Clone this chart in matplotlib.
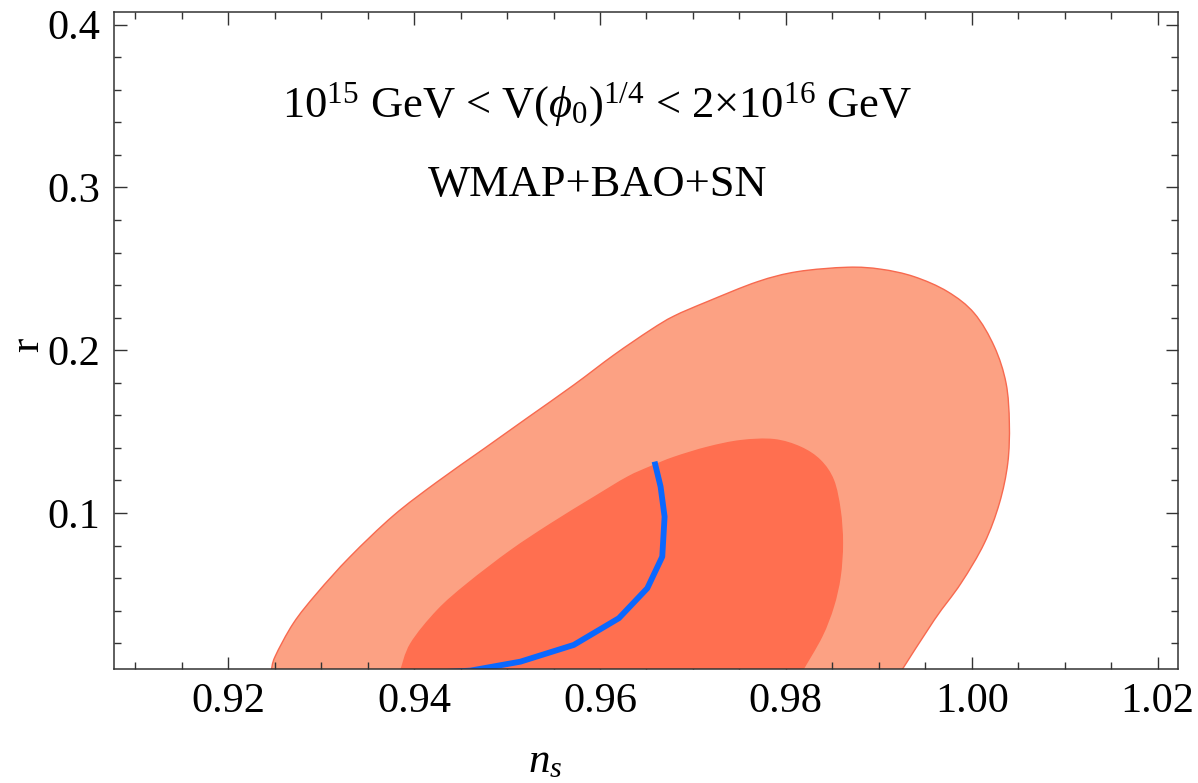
import matplotlib
matplotlib.use("Agg")
import numpy as np
import matplotlib.pyplot as plt
from matplotlib.path import Path
from matplotlib.patches import PathPatch
from matplotlib.ticker import MultipleLocator, FixedFormatter, FixedLocator

plt.rcParams["font.family"] = ["Liberation Serif", "DejaVu Serif"]
plt.rcParams["mathtext.fontset"] = "custom"
plt.rcParams["mathtext.rm"] = "Liberation Serif"
plt.rcParams["mathtext.it"] = "Liberation Serif:italic"
plt.rcParams["mathtext.bf"] = "Liberation Serif:bold"
plt.rcParams["mathtext.fallback"] = "stix"

# 2-sigma (outer) confidence region in the (n_s, r) plane
outer_ns = [0.9240, 0.92457, 0.92503, 0.92700, 0.92953, 0.93311, 0.93778, 0.94246,
            0.94748, 0.95216, 0.95718, 0.96149, 0.96544, 0.96795, 0.97155, 0.97694,
            0.98125, 0.98664, 0.99023, 0.99381, 0.99741, 1.00028, 1.00244, 1.00370,
            1.00405, 1.00388, 1.00298, 1.00136, 0.99885, 0.99597, 0.99238, 0.9918]
outer_r = [-0.002, 0.0026, 0.0118, 0.0323, 0.0507, 0.0732, 0.0985, 0.1191,
           0.1394, 0.1584, 0.1787, 0.1971, 0.2125, 0.2210, 0.2299, 0.2421,
           0.2483, 0.2510, 0.2498, 0.2452, 0.2360, 0.2227, 0.2022, 0.1797,
           0.1552, 0.1306, 0.1060, 0.0815, 0.0569, 0.0343, 0.0026, -0.002]

# 1-sigma (inner) confidence region
inner_ns = [0.9380, 0.93843, 0.93958, 0.94246, 0.94569, 0.95036, 0.95467, 0.95933,
            0.96293, 0.96544, 0.96795, 0.97155, 0.97514, 0.97873, 0.98161, 0.98376,
            0.98519, 0.98591, 0.98616, 0.98591, 0.98519, 0.98394, 0.98179, 0.9814]
inner_r = [-0.002, 0.0026, 0.0200, 0.0405, 0.0569, 0.0773, 0.0937, 0.1101,
           0.1224, 0.1289, 0.1346, 0.1408, 0.1449, 0.1455, 0.1408, 0.1326,
           0.1203, 0.1019, 0.0815, 0.0609, 0.0425, 0.0241, 0.0026, -0.002]

# model prediction curve
model_ns = [0.96587, 0.96652, 0.96695, 0.96670, 0.96509, 0.96203, 0.95718,
            0.95143, 0.94605, 0.94101]
model_r = [0.1316, 0.1162, 0.0978, 0.0732, 0.0538, 0.0354, 0.0190,
           0.0087, 0.0032, 0.0016]

x_ticks = [0.92, 0.94, 0.96, 0.98, 1.00, 1.02]
x_tick_labels = ["0.92", "0.94", "0.96", "0.98", "1.00", "1.02"]
y_ticks = [0.1, 0.2, 0.3, 0.4]
y_tick_labels = ["0.1", "0.2", "0.3", "0.4"]


def smooth_region(xs, ys):
    """Closed path passing through the given boundary points with
    Catmull-Rom style cubic Bezier segments."""
    p = np.column_stack([xs, ys])
    n = len(p)
    verts = [p[0]]
    codes = [Path.MOVETO]
    for i in range(n - 1):
        p0 = p[i - 1] if i > 0 else p[i]
        p1, p2 = p[i], p[i + 1]
        p3 = p[i + 2] if i + 2 < n else p[i + 1]
        c1 = p1 + (p2 - p0) / 6.0
        c2 = p2 - (p3 - p1) / 6.0
        verts += [c1, c2, p2]
        codes += [Path.CURVE4] * 3
    verts.append(p[0])
    codes.append(Path.CLOSEPOLY)
    return Path(np.array(verts), codes)


fig = plt.figure(figsize=(11.98, 7.83), dpi=100)
ax = fig.add_axes([114 / 1198, 1 - 669 / 783, (1178 - 114) / 1198, (669 - 12) / 783])

ax.add_patch(PathPatch(smooth_region(outer_ns, outer_r), facecolor="#FCA183",
                       edgecolor="#F7694F", linewidth=1.0, zorder=1))
ax.add_patch(PathPatch(smooth_region(inner_ns, inner_r), facecolor="#FF6F50",
                       edgecolor="none", zorder=2))
ax.plot(model_ns, model_r, color="#0A68FF", linewidth=4.2, solid_capstyle="butt", zorder=3)

ax.set_xlim(0.9077, 1.0222)
ax.set_ylim(0.0042, 0.4078)

ax.xaxis.set_major_locator(FixedLocator(x_ticks))
ax.xaxis.set_major_formatter(FixedFormatter(x_tick_labels))
ax.xaxis.set_minor_locator(MultipleLocator(0.005))
ax.yaxis.set_major_locator(FixedLocator(y_ticks))
ax.yaxis.set_major_formatter(FixedFormatter(y_tick_labels))
ax.yaxis.set_minor_locator(MultipleLocator(0.02))

frame_color = "#333333"
for s in ax.spines.values():
    s.set_color(frame_color)
    s.set_linewidth(1.1)
    s.set_zorder(5)

ax.tick_params(which="both", direction="in", top=True, right=True, colors=frame_color,
               labelcolor="black", labelsize=30.5, width=1.0)
ax.tick_params(which="major", length=9, pad=10)
ax.tick_params(which="minor", length=5)

ax.set_xlabel(r"$n_s$", fontsize=31, va="center", ha="center")
ax.xaxis.set_label_coords((545 - 114) / 1064, -(762 - 669) / 657)
ax.set_ylabel("r", fontsize=31, va="center", ha="center")
ax.yaxis.set_label_coords(-(114 - 28) / 1064, (669 - 345) / 657)

ax.text(0.9597, 0.3507, r"$10^{15}$ GeV < V($\phi_0$)$^{1/4}$ < 2×$10^{16}$ GeV",
        fontsize=32, ha="center", va="center", zorder=6)
ax.text(0.9597, 0.3015, "WMAP+BAO+SN", fontsize=32, ha="center", va="center", zorder=6)

fig.savefig("out.png", dpi=100)
